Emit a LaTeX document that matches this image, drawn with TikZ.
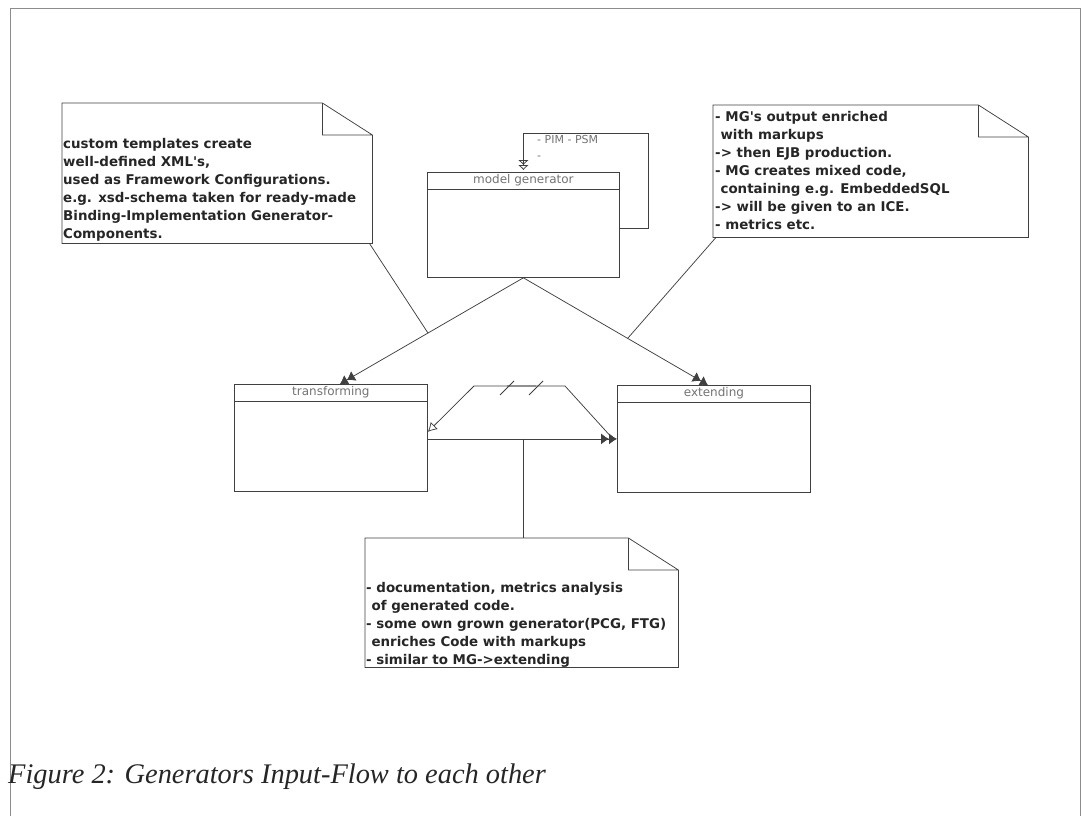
\documentclass[tikz,border=0pt]{standalone}
\usepackage{fontspec}
\setmainfont{Liberation Serif}
\newfontfamily\notefont{DejaVu Sans}
\usepackage{tikz}
\usetikzlibrary{arrows.meta,positioning,calc}

\begin{document}
\begin{tikzpicture}[x=1pt,y=-1pt,
    classbox/.style={draw=black!75, line width=0.8pt, minimum width=193pt, minimum height=107pt, inner sep=0pt, anchor=north west},
    classline/.style={draw=black!75, line width=0.8pt},
    classname/.style={font=\notefont\fontsize{12}{12}\selectfont, text=black!55, inner sep=0pt},
    notebox/.style={inner sep=0pt, anchor=north west},
    notetext/.style={font=\notefont\bfseries\fontsize{13.4}{18}\selectfont, align=left, inner sep=0pt, text=black!85, anchor=north west},
    notelink/.style={draw=black!75, line width=0.75pt},
    gen/.style={draw=black!75, line width=0.75pt, -{Latex[length=8pt,width=11pt]Latex[length=8pt,width=11pt]}},
    openlink/.style={draw=black!75, line width=0.75pt, -{Latex[open,length=9pt,width=10pt]}},
    selfloop/.style={draw=black!75, line width=0.75pt, -{Latex[open,length=5pt,width=11pt]Latex[open,length=5pt,width=11pt]}}]
    \useasboundingbox (0,0) rectangle (1083,816);

    % outer frame, open at the bottom
    \draw[black!45, line width=0.8pt] (10,816) -- (10,8) -- (1080,8) -- (1080,816);

    % classes
    \node[classbox, minimum width=192pt, minimum height=105pt] (mg) at (427,172) {};
    \node[classbox] (trans) at (234,384) {};
    \node[classbox] (ext) at (617,385) {};
    \foreach \c in {mg,trans,ext}
        \draw[classline] ([yshift=-17pt]\c.north west) -- ([yshift=-17pt]\c.north east);
    \node[classname] (mgname) at ([yshift=-8.5pt]mg.north) {model generator};
    \node[classname] (transname) at ([yshift=-8.5pt]trans.north) {transforming};
    \node[classname] (extname) at ([yshift=-8.5pt]ext.north) {extending};

    % self loop on the model generator
    \draw[selfloop] ([yshift=-3pt]mg.east) -- ++(29,0) |- ([yshift=39pt]mg.north) -- ([yshift=2pt]mg.north);
    \node[classname, anchor=north west, align=left, font=\notefont\fontsize{11}{16}\selectfont] (pimlabel) at (537,135) {- PIM - PSM\\-};

    % notes
    \node[notebox, minimum width=310pt, minimum height=140pt] (tmplnote) at (62,103) {};
    \node[notebox, minimum width=315pt, minimum height=132pt] (mgnote) at (713,105) {};
    \node[notebox, minimum width=313pt, minimum height=129pt] (docnote) at (365,538) {};
    \foreach \n in {tmplnote,mgnote,docnote}
        \draw[notelink] (\n.north west) -- ([xshift=-50pt]\n.north east) -- ([yshift=-32pt]\n.north east)
            -- (\n.south east) -- (\n.south west) -- cycle
            ([xshift=-50pt]\n.north east) |- ([yshift=-32pt]\n.north east);

    \node[notetext, below right=35pt and 1pt of tmplnote.north west] (tmpltext)
        {custom templates create\\well-defined XML's,\\used as Framework Configurations.\\e.g. xsd-schema taken for ready-made\\Binding-Implementation Generator-\\Components.};
    \node[notetext, below right=6pt and 2pt of mgnote.north west] (mgtext)
        {- MG's output enriched\\\hspace*{.4em}with markups\\-> then EJB production.\\- MG creates mixed code,\\\hspace*{.4em}containing e.g. EmbeddedSQL\\-> will be given to an ICE.\\- metrics etc.};
    \node[notetext, below right=44pt and 1pt of docnote.north west] (doctext)
        {- documentation, metrics analysis\\\hspace*{.4em}of generated code.\\- some own grown generator(PCG, FTG)\\\hspace*{.4em}enriches Code with markups\\- similar to MG->extending};

    % generator flow
    \draw[gen] (mg.south) -- coordinate[pos=0.52] (tmpljoin) ([xshift=9pt]trans.north);
    \draw[gen] (mg.south) -- coordinate[pos=0.565] (mgjoin) ([xshift=-6pt]ext.north);
    \draw[notelink] ([xshift=-3pt]tmplnote.south east) -- (tmpljoin);
    \draw[notelink] ([xshift=3pt]mgnote.south west) -- (mgjoin);

    % transforming to extending
    \draw[gen] ([yshift=-1pt]trans.east) -- coordinate[pos=0.505] (docjoin) (ext.west);
    \draw[notelink] (docjoin) -- (docjoin |- docnote.north);

    % broken link back to transforming
    \coordinate (brkL) at (474,386);
    \coordinate (brkR) at (565,386);
    \draw[notelink] (507,386) -- (brkR) -- ([xshift=-4pt]ext.west);
    \draw[openlink] (536,386) -- (brkL) -- ([yshift=6pt]trans.east);
    \draw[notelink] (500,395) -- (514,381) (529,395) -- (543,381);

    % caption
    \node[anchor=base west, inner sep=0pt, font=\itshape\fontsize{28.4}{30}\selectfont, text=black!85] (caption) at (8,783)
        {Figure 2: Generators Input-Flow to each other};
\end{tikzpicture}
\end{document}
